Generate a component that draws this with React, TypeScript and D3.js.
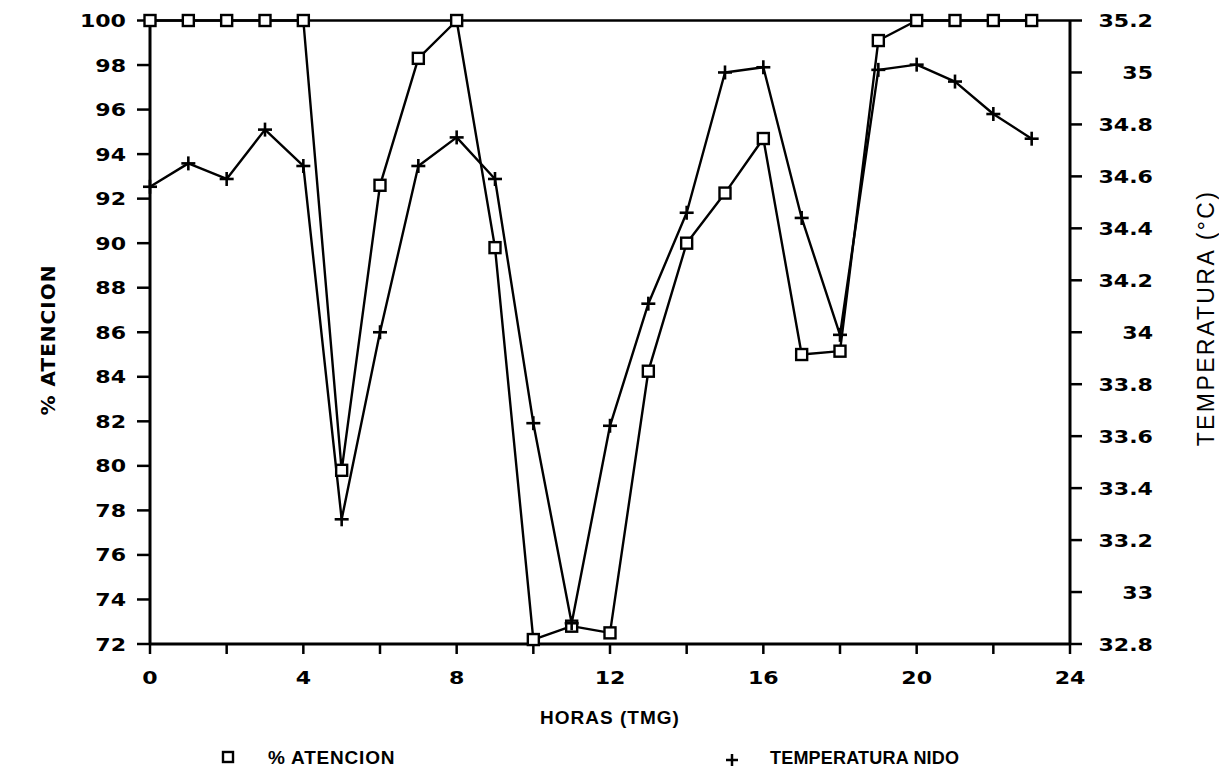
import React from "react";
import * as d3 from "d3";

// Hours of the day (GMT)
const hours = d3.range(0, 24);
// % of time the nest is attended
const attention = [
  100, 100, 100, 100, 100, 79.8, 92.6, 98.3, 100, 89.8, 72.2, 72.8,
  72.5, 84.25, 90.0, 92.25, 94.7, 85.0, 85.15, 99.1, 100, 100, 100, 100,
];
// Nest temperature (°C)
const temperature = [
  34.56, 34.65, 34.59, 34.78, 34.64, 33.28, 34.0, 34.64, 34.75, 34.59, 33.65, 32.88,
  33.64, 34.11, 34.46, 35.0, 35.02, 34.44, 33.99, 35.01, 35.03, 34.965, 34.84, 34.745,
];

const xTicks = d3.range(0, 25, 2);
const xLabels = d3.range(0, 25, 4);
const leftTicks = d3.range(72, 101, 2);
const rightTicks = d3.range(0, 13).map((i) => +(32.8 + i * 0.2).toFixed(1));

const W = 1219;
const H = 777;
const left = 150;
const right = 1070;
const top = 20.5;
const bottom = 644;

const TICK_FONT = "'DejaVu Sans', sans-serif";
const LABEL_FONT = "'Liberation Sans', Arial, sans-serif";

export default function App() {
  const x = d3.scaleLinear().domain([0, 24]).range([left, right]);
  const yL = d3.scaleLinear().domain([72, 100]).range([bottom, top]);
  const yR = d3.scaleLinear().domain([32.8, 35.2]).range([bottom, top]);

  const attLine = d3
    .line<number>()
    .x((_, i) => x(hours[i]))
    .y((d) => yL(d))(attention) as string;
  const tempLine = d3
    .line<number>()
    .x((_, i) => x(hours[i]))
    .y((d) => yR(d))(temperature) as string;

  const sq = 11;
  const pl = 7;

  const fmtR = (v: number) => (Number.isInteger(v) ? String(v) : v.toFixed(1));

  return (
    <svg
      width={W}
      height={H}
      style={{ position: "absolute", left: 0, top: 0, background: "#fff" }}
    >
      {/* frame */}
      <g stroke="#000" strokeWidth={3} fill="none">
        <line x1={left} x2={left} y1={top} y2={bottom} />
        <line x1={right} x2={right} y1={top} y2={bottom} />
        <line x1={left} x2={right} y1={bottom} y2={bottom} />
        <line x1={left} x2={right} y1={top} y2={top} strokeWidth={2.5} />
      </g>

      {/* left axis */}
      {leftTicks.map((t) => (
        <g key={"l" + t}>
          <line x1={left - 13} x2={left} y1={yL(t)} y2={yL(t)} stroke="#000" strokeWidth={2.5} />
          <text
            transform={`translate(126,${yL(t) + 6.5}) scale(1.3,1)`}
            textAnchor="end"
            fontFamily={TICK_FONT}
            fontWeight="bold"
            fontSize={17}
          >
            {t}
          </text>
        </g>
      ))}

      {/* right axis */}
      {rightTicks.map((t) => (
        <g key={"r" + t}>
          <line x1={right} x2={right + 12} y1={yR(t)} y2={yR(t)} stroke="#000" strokeWidth={2.5} />
          <text
            transform={`translate(1153,${yR(t) + 6.5}) scale(1.3,1)`}
            textAnchor="end"
            fontFamily={TICK_FONT}
            fontWeight="bold"
            fontSize={17}
          >
            {fmtR(t)}
          </text>
        </g>
      ))}

      {/* bottom axis */}
      {xTicks.map((t) => (
        <line key={"x" + t} x1={x(t)} x2={x(t)} y1={bottom} y2={bottom + 10} stroke="#000" strokeWidth={2.5} />
      ))}
      {xLabels.map((t) => (
        <text
          key={"xl" + t}
          transform={`translate(${x(t)},684) scale(1.3,1)`}
          textAnchor="middle"
          fontFamily={TICK_FONT}
          fontWeight="bold"
          fontSize={17}
        >
          {t}
        </text>
      ))}

      {/* series */}
      <path d={attLine} fill="none" stroke="#000" strokeWidth={2.4} strokeLinejoin="round" />
      <path d={tempLine} fill="none" stroke="#000" strokeWidth={2.4} strokeLinejoin="round" />

      {attention.map((v, i) => (
        <rect
          key={"s" + i}
          x={x(hours[i]) - sq / 2}
          y={yL(v) - sq / 2}
          width={sq}
          height={sq}
          fill="#fff"
          stroke="#000"
          strokeWidth={2.4}
        />
      ))}
      {temperature.map((v, i) => (
        <g key={"p" + i} stroke="#000" strokeWidth={2.6}>
          <line x1={x(hours[i]) - pl} x2={x(hours[i]) + pl} y1={yR(v)} y2={yR(v)} />
          <line x1={x(hours[i])} x2={x(hours[i])} y1={yR(v) - pl} y2={yR(v) + pl} />
        </g>
      ))}

      {/* axis titles */}
      <text
        transform="translate(55,340) rotate(-90)"
        textAnchor="middle"
        fontFamily={TICK_FONT}
        fontWeight="bold"
        fontSize={20}
        letterSpacing={1}
      >
        % ATENCION
      </text>
      <text
        transform="translate(1214,318) rotate(-90)"
        textAnchor="middle"
        fontFamily={LABEL_FONT}
        fontSize={23}
        letterSpacing={2.4}
      >
        TEMPERATURA (°C)
      </text>
      <text
        x={610}
        y={724}
        textAnchor="middle"
        fontFamily={LABEL_FONT}
        fontWeight="bold"
        fontSize={19}
        letterSpacing={1}
      >
        HORAS (TMG)
      </text>

      {/* legend */}
      <rect x={223} y={752} width={10} height={10} fill="#fff" stroke="#000" strokeWidth={2.4} />
      <text x={268} y={764} fontFamily={LABEL_FONT} fontWeight="bold" fontSize={19} letterSpacing={0.8}>
        % ATENCION
      </text>
      <g stroke="#000" strokeWidth={2.5}>
        <line x1={726} x2={738} y1={760} y2={760} />
        <line x1={732} x2={732} y1={754} y2={766} />
      </g>
      <text x={770} y={764} fontFamily={LABEL_FONT} fontWeight="bold" fontSize={18} letterSpacing={0.2}>
        TEMPERATURA NIDO
      </text>
    </svg>
  );
}
